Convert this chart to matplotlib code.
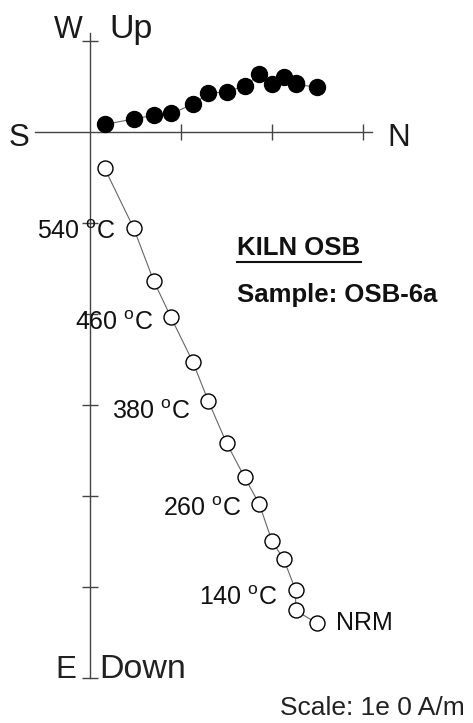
import matplotlib
matplotlib.use("Agg")
import matplotlib.pyplot as plt

plt.rcParams['font.family'] = ['Liberation Sans', 'DejaVu Sans']
plt.rcParams['mathtext.fontset'] = 'custom'
plt.rcParams['mathtext.rm'] = 'Liberation Sans'

# Demagnetisation steps (NRM first)
steps = ["NRM", "100", "140", "180", "220", "260", "300", "340", "380",
         "420", "460", "500", "540", "580"]
# North component (A/m) - shared horizontal coordinate
north = [2.49, 2.26, 2.26, 2.13, 2.00, 1.86, 1.70, 1.50, 1.30, 1.13, 0.89, 0.70, 0.48, 0.16]
# West component (A/m) - filled symbols (horizontal projection)
west = [0.49, 0.52, 0.53, 0.60, 0.52, 0.63, 0.50, 0.44, 0.42, 0.30, 0.20, 0.18, 0.14, 0.08]
# Down component (A/m) - open symbols (vertical projection)
down = [5.40, 5.26, 5.04, 4.70, 4.50, 4.09, 3.80, 3.42, 2.96, 2.53, 2.04, 1.64, 1.06, 0.40]
labeled_steps = ["NRM", "140", "260", "380", "460", "540"]
x_ticks = [1, 2, 3]
y_ticks = [1, -1, -2, -3, -4, -5, -6]

up = [-d for d in down]

# label vertical offsets in pixels (downwards), layout only
label_dy = {"NRM": 0, "140": 8, "260": 5, "380": 11, "460": 5.7, "540": 3.7}

W, H = 473, 723
fig = plt.figure(figsize=(W / 100, H / 100), dpi=100)
ax = fig.add_axes([0, 0, 1, 1])
ux = 91.0
ox, oy = 90.0, 131.7
ax.set_xlim(-ox / ux, (W - ox) / ux)
ax.set_ylim(-(H - oy) / ux, oy / ux)

axcol = '#444444'
for s in ['top', 'right']:
    ax.spines[s].set_visible(False)
ax.spines['left'].set_position(('data', 0))
ax.spines['bottom'].set_position(('data', 0))
ax.spines['left'].set_bounds(-6.0, 1.085)
ax.spines['bottom'].set_bounds(-0.6, 3.1)
for s in ['left', 'bottom']:
    ax.spines[s].set_color(axcol)
    ax.spines[s].set_linewidth(1.0)
ax.set_xticks(x_ticks)
ax.set_yticks(y_ticks)
ax.set_xticklabels([])
ax.set_yticklabels([])
ax.tick_params(direction='inout', length=12, width=1.0, color=axcol)

linecol = '#666666'
ax.plot(north, west, '-', color=linecol, lw=0.8, zorder=2)
ax.plot(north, west, 'o', ms=11.5, mfc='black', mec='black', zorder=3)
ax.plot(north, up, '-', color=linecol, lw=0.8, zorder=2)
ax.plot(north, up, 'o', ms=10.8, mfc='white', mec='black', mew=1.0, zorder=3)

fs_lab = 18
for s, n, u in zip(steps, north, up):
    if s not in labeled_steps:
        continue
    dy = -label_dy[s] * 0.72
    if s == "NRM":
        ax.annotate("NRM", (n, u), xytext=(14, dy), textcoords='offset points',
                    ha='left', va='center', fontsize=fs_lab, color='#111111')
    else:
        ax.annotate(s + r" $^{\mathregular{o}}$C", (n, u), xytext=(-13, dy),
                    textcoords='offset points', ha='right', va='center',
                    fontsize=fs_lab, color='#111111')

def fx(px):
    return px / W

def fy(py):
    return 1 - py / H

tc = '#1a1a1a'
fig.text(fx(68), fy(37.7), "W", ha='center', va='baseline', fontsize=22, color=tc)
fig.text(fx(109), fy(37.7), "Up", ha='left', va='baseline', fontsize=24.5, color=tc)
fig.text(fx(9), fy(145.5), "S", ha='left', va='baseline', fontsize=22.5, color=tc)
fig.text(fx(387), fy(145.5), "N", ha='left', va='baseline', fontsize=22.5, color=tc)
fig.text(fx(55), fy(678.3), "E", ha='left', va='baseline', fontsize=22.5, color='#222222')
fig.text(fx(99), fy(678.3), "Down", ha='left', va='baseline', fontsize=24.5, color='#222222')
fig.text(fx(280), fy(715), "Scale: 1e 0 A/m", ha='left', va='baseline', fontsize=19, color='#222222')

fig.text(fx(237), fy(255), "KILN OSB", ha='left', va='baseline', fontsize=18.5,
         fontweight='bold', color='#111111')
fig.text(fx(237), fy(302), "Sample: OSB-6a", ha='left', va='baseline', fontsize=18.5,
         fontweight='bold', color='#111111')
ax.plot([(237 - ox) / ux, (361 - ox) / ux], [(oy - 262) / ux] * 2, color='#111111', lw=1.5)

fig.savefig("out.png", dpi=100)
